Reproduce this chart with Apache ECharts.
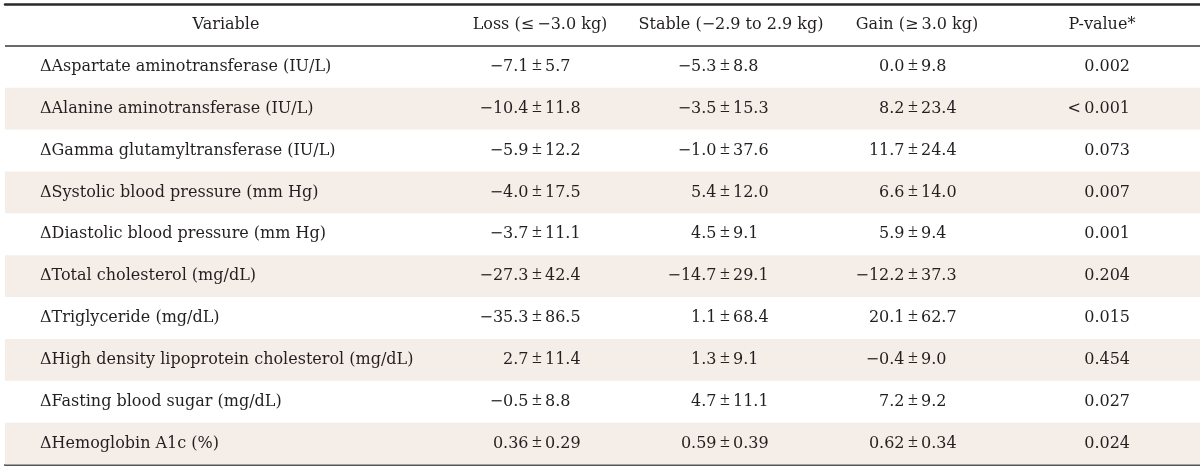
<!DOCTYPE html>
<html>
<head>
<meta charset="utf-8">
<script src="https://cdn.jsdelivr.net/npm/echarts@6/dist/echarts.min.js"></script>
<style>
html,body{margin:0;padding:0;background:#fff;}
#chart{width:1200px;height:469px;}
</style>
</head>
<body>
<div id="chart"></div>
<script>
// ---- data ----
const headers = ['Variable', 'Loss (≤\u2009−3.0 kg)', 'Stable (−2.9 to 2.9 kg)', 'Gain (≥\u20093.0 kg)', 'P-value*'];
const variables = [
  'ΔAspartate aminotransferase (IU/L)',
  'ΔAlanine aminotransferase (IU/L)',
  'ΔGamma glutamyltransferase (IU/L)',
  'ΔSystolic blood pressure (mm Hg)',
  'ΔDiastolic blood pressure (mm Hg)',
  'ΔTotal cholesterol (mg/dL)',
  'ΔTriglyceride (mg/dL)',
  'ΔHigh density lipoprotein cholesterol (mg/dL)',
  'ΔFasting blood sugar (mg/dL)',
  'ΔHemoglobin A1c (%)'
];
const decimals = [1, 1, 1, 1, 1, 1, 1, 1, 1, 2];
const lossMean   = [-7.1, -10.4, -5.9, -4.0, -3.7, -27.3, -35.3, 2.7, -0.5, 0.36];
const lossSD     = [5.7, 11.8, 12.2, 17.5, 11.1, 42.4, 86.5, 11.4, 8.8, 0.29];
const stableMean = [-5.3, -3.5, -1.0, 5.4, 4.5, -14.7, 1.1, 1.3, 4.7, 0.59];
const stableSD   = [8.8, 15.3, 37.6, 12.0, 9.1, 29.1, 68.4, 9.1, 11.1, 0.39];
const gainMean   = [0.0, 8.2, 11.7, 6.6, 5.9, -12.2, 20.1, -0.4, 7.2, 0.62];
const gainSD     = [9.8, 23.4, 24.4, 14.0, 9.4, 37.3, 62.7, 9.0, 9.2, 0.34];
const pValues    = ['0.002', '<\u20090.001', '0.073', '0.007', '0.001', '0.204', '0.015', '0.454', '0.027', '0.024'];

// ---- styling / layout ----
const FONT = 'DejaVu Serif';
const FS = 16;
const TXT = '#231f20';
const SHADE = '#f5eee8';
const headerX = [226, 540, 731, 917, 1102];
const varX = 40;
const pmX = [537, 725, 913];
const pRight = 1130;
const GAP_L = 8.5;
const GAP_R = 8;

function fmt(v, d) {
  const s = Math.abs(v).toFixed(d);
  return (v < 0 ? '−' : '') + s;
}
function rowY(i) { return i + 1.5; }

function textSeries(items, align, extra) {
  return {
    type: 'scatter',
    symbolSize: 0,
    silent: true,
    itemStyle: { opacity: 1 },
    data: items.map(it => ({ value: [it[0], it[1]], label: { formatter: it[2] } })),
    label: Object.assign({
      show: true, position: 'inside', align: align, verticalAlign: 'middle',
      color: TXT, opacity: 1, fontFamily: FONT, fontSize: FS
    }, extra || {})
  };
}

const series = [];
// header
series.push(textSeries(headers.map((h, c) => [headerX[c], 0.5, h]), 'center'));
// variable names
series.push(textSeries(variables.map((v, i) => [varX, rowY(i), v]), 'left'));
// mean ± sd groups
[[lossMean, lossSD], [stableMean, stableSD], [gainMean, gainSD]].forEach((g, c) => {
  const m = g[0], s = g[1];
  series.push(textSeries(m.map((v, i) => [pmX[c] - GAP_L, rowY(i), fmt(v, decimals[i])]), 'right'));
  series.push(textSeries(m.map((v, i) => [pmX[c], rowY(i), '±']), 'center',
    { fontFamily: 'Liberation Serif', fontSize: 18, offset: [0, -1.5] }));
  series.push(textSeries(s.map((v, i) => [pmX[c] + GAP_R, rowY(i), fmt(v, decimals[i])]), 'left'));
});
// p-values
series.push(textSeries(pValues.map((p, i) => [pRight, rowY(i), p]), 'right'));

// shading + header rule
const shadeAreas = [];
variables.forEach((v, i) => {
  if (i % 2 === 1) shadeAreas.push([{ yAxis: i + 1 }, { yAxis: i + 2 }]);
});
series.push({
  type: 'scatter', data: [], silent: true,
  markArea: { silent: true, itemStyle: { color: SHADE, opacity: 1 }, data: shadeAreas },
  markLine: {
    silent: true, symbol: 'none', label: { show: false },
    lineStyle: { color: '#6a6a6a', width: 2, type: 'solid', opacity: 1 },
    data: [{ yAxis: 1 }]
  },
  z: 0
});

const chart = echarts.init(document.getElementById('chart'), null, { renderer: 'canvas' });
chart.setOption({
  animation: false,
  backgroundColor: '#fff',
  grid: { left: 5, right: 0, top: 4, bottom: 4.5, containLabel: false },
  xAxis: [
    { type: 'value', min: 5, max: 1200, position: 'top',
      axisLine: { show: true, onZero: false, lineStyle: { color: '#2a2a2a', width: 2.5 } },
      axisTick: { show: false }, axisLabel: { show: false }, splitLine: { show: false } },
    { type: 'value', min: 5, max: 1200, position: 'bottom',
      axisLine: { show: true, onZero: false, lineStyle: { color: '#555', width: 2 } },
      axisTick: { show: false }, axisLabel: { show: false }, splitLine: { show: false } }
  ],
  yAxis: { type: 'value', min: 0, max: 11, inverse: true, show: false },
  series: series
});
</script>
</body>
</html>
